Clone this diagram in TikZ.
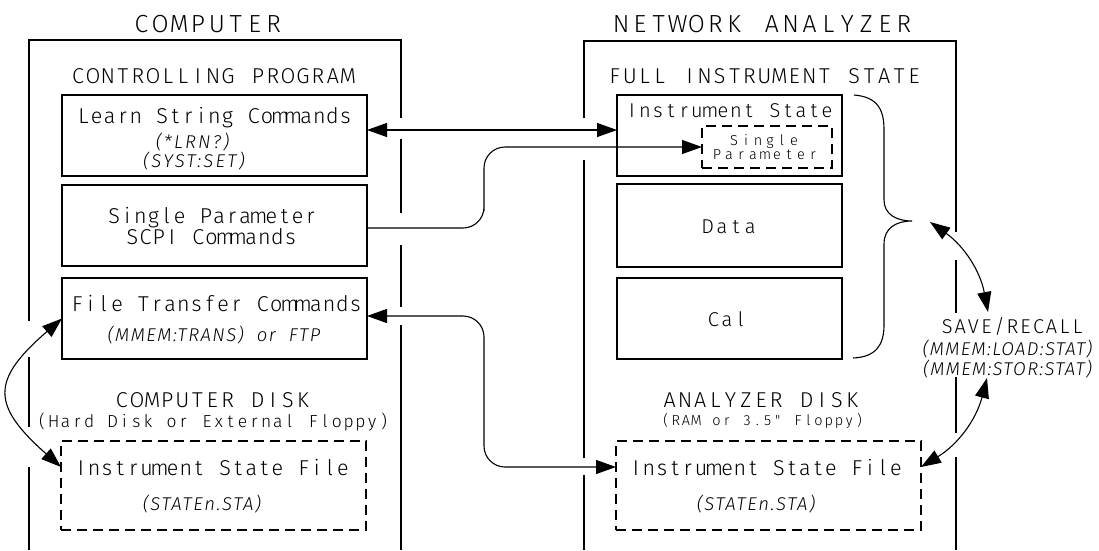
\documentclass[tikz,border=0pt]{standalone}
\usepackage{fontspec}
\usetikzlibrary{arrows.meta,calc}
\newfontfamily\hpf{Fira Sans Light}
\newfontfamily\hpi{Fira Sans Light Italic}
\ExplSyntaxOn
\NewDocumentCommand \hpmono { m m }
  { \tl_map_inline:nn {#2} { \makebox[#1][c]{##1} } }
\ExplSyntaxOff
\newcommand\hpls[2]{{\addfontfeature{LetterSpace=#1}#2}}
\tikzset{
  lab/.style={inner sep=0pt, anchor=base},
  ttl/.style={lab, font=\hpf\fontsize{24.7}{28}\selectfont},
  med/.style={lab, font=\hpf\fontsize{21.5}{26}\selectfont},
  mid/.style={lab, font=\hpf\fontsize{20}{24}\selectfont},
  sml/.style={lab, font=\hpf\fontsize{17.4}{20}\selectfont},
  tny/.style={lab, font=\hpf\fontsize{14.5}{18}\selectfont},
  ita/.style={lab, font=\hpi\fontsize{18.5}{22}\selectfont},
  boxst/.style={draw, inner sep=0pt, outer sep=0pt},
  dbox/.style={boxst, dash pattern=on 10pt off 6pt},
  dbl/.style={{Triangle[length=20pt,width=14pt]}-{Triangle[length=20pt,width=14pt]}},
  sgl/.style={-{Triangle[length=20pt,width=14pt]}},
}
\begin{document}
\begin{tikzpicture}[x=1pt,y=-1pt,line width=1.1pt]
\useasboundingbox (0,0) rectangle (1099,550);
% outer frames
\draw (29,550) -- (29,467);
\draw (29,427) -- (29,357);
\draw (29,321) -- (29,40) -- (401,40) -- (401,118);
\draw (401,139) -- (401,213);
\draw (401,245) -- (401,307);
\draw (401,325) -- (401,550);
\draw (584,550) -- (584,475);
\draw (584,458) -- (584,160);
\draw (584,118) -- (584,41) -- (956,41) -- (956,232);
\draw (956,260) -- (956,313);
\draw (956,377) -- (956,433);
\draw (956,457) -- (956,550);
% boxes
\node[boxst, minimum width=305pt, minimum height=81pt] (learn) at (214.5,135.5) {};
\node[boxst, minimum width=305pt, minimum height=81pt] (scpi) at (214.5,225.5) {};
\node[boxst, minimum width=305pt, minimum height=81pt] (ft) at (214.5,318.5) {};
\node[dbox, minimum width=305pt, minimum height=89pt] (cdisk) at (213.5,485.5) {};
\node[boxst, minimum width=225pt, minimum height=81pt] (ist) at (729.5,135.5) {};
\node[dbox, minimum width=130pt, minimum height=42pt] (sp) at (767,147) {};
\node[boxst, minimum width=225pt, minimum height=83pt] (data) at (729.5,225.5) {};
\node[boxst, minimum width=225pt, minimum height=81pt] (cal) at (729.5,318.5) {};
\node[dbox, minimum width=305pt, minimum height=89pt] (adisk) at (768.5,485.5) {};
% texts left
\node[ttl] (tcomp) at (207.5,32) {\hpmono{18.9pt}{COMPUTER}};
\node[med] (tctrl) at (213,83) {\hpmono{15pt}{CONTROLLING~PROGRAM}};
\node[med] (tlearn) at (214.5,123) {\hpmono{13.1pt}{Learn~String~Commands}};
\node[ita] (tlrn) at (192.5,148) {\hpls{12}{(*LRN?)}};
\node[ita] (tsyst) at (194,167) {\hpls{12.5}{(SYST:SET)}};
\node[med] (tsp1) at (212.5,223) {\hpmono{13.1pt}{Single~Parameter}};
\node[med] (tsp2) at (211.5,244) {\hpmono{13.2pt}{SCPI~Commands}};
\node[med] (tft1) at (216.5,311) {\hpmono{13.26pt}{File~Transfer~Commands}};
\node[ita] (tft2) at (214,341) {\hpls{8}{(MMEM:TRANS)~~or~~FTP}};
\node[med] (tcd1) at (212.5,407) {\hpmono{15.1pt}{COMPUTER~DISK}};
\node[sml] (tcd2) at (213,427) {\hpmono{11.8pt}{(Hard~Disk~or~External~Floppy)}};
\node[med] (tcd3) at (212,475) {\hpmono{13.1pt}{Instrument~State~File}};
\node[ita] (tcd4) at (202,510) {\hpls{9}{(STATEn.STA)}};
% texts right
\node[ttl] (tna) at (762.5,32) {\hpmono{18.85pt}{NETWORK~ANALYZER}};
\node[med] (tfull) at (764.5,83) {\hpmono{14.96pt}{FULL~INSTRUMENT~STATE}};
\node[mid] (tist) at (729.5,117) {\hpmono{13pt}{Instrument~State}};
\node[tny] (tsg1) at (764,145) {\hpmono{12pt}{Single}};
\node[tny] (tsg2) at (765,159) {\hpmono{12pt}{Parameter}};
\node[mid] (tdata) at (729,233) {\hpmono{14.2pt}{Data}};
\node[mid] (tcal) at (727,326) {\hpmono{13.6pt}{Cal}};
\node[med] (tad1) at (761,407) {\hpmono{15.2pt}{ANALYZER~DISK}};
\node[tny] (tad2) at (762.5,425) {\hpmono{10.2pt}{(RAM~or~3.5"~Floppy)}};
\node[med] (tad3) at (766,475) {\hpmono{13pt}{Instrument~State~File}};
\node[ita] (tad4) at (756,510) {\hpls{9}{(STATEn.STA)}};
\node[mid] (tsr1) at (1012.5,333) {\hpmono{13.05pt}{SAVE/RECALL}};
\node[ita] (tsr2) at (1007.5,355) {\hpls{7}{(MMEM:LOAD:STAT)}};
\node[ita] (tsr3) at (1007.5,375) {\hpls{7}{(MMEM:STOR:STAT)}};
% brace
\draw (854,95) .. controls (878,97) and (884,110) .. (884,130) -- (884,200)
  .. controls (884,214) and (896,221) .. (912,221)
  .. controls (896,221) and (884,228) .. (884,244) -- (884,325)
  .. controls (884,345) and (876,357) .. (853,358);
% connector coordinates
\coordinate (btip) at (930,222);
\coordinate (srtop) at (988,312);
\coordinate (srbot) at (987,378);
\coordinate (j1) at (484,190);
\coordinate (j2) at (484,390);
% connectors
\draw[dbl] ([yshift=5.5pt]learn.east) -- ([yshift=5.5pt]ist.west);
\draw[sgl, rounded corners=21pt] ([yshift=-2.5pt]scpi.east) -| (j1) |- (sp.west);
\draw[dbl, rounded corners=21pt] ([yshift=2.5pt]ft.east) -| (j2) |- ([yshift=18.5pt]adisk.west);
\draw[dbl] (ft.west) .. controls (-9,380) and (-9,405) .. ([yshift=-26pt]cdisk.north west);
\draw[dbl] (btip) to[bend left=22] (srtop);
\draw[dbl] (srbot) to[bend left=22] ([yshift=18.5pt]adisk.east);
\end{tikzpicture}
\end{document}
